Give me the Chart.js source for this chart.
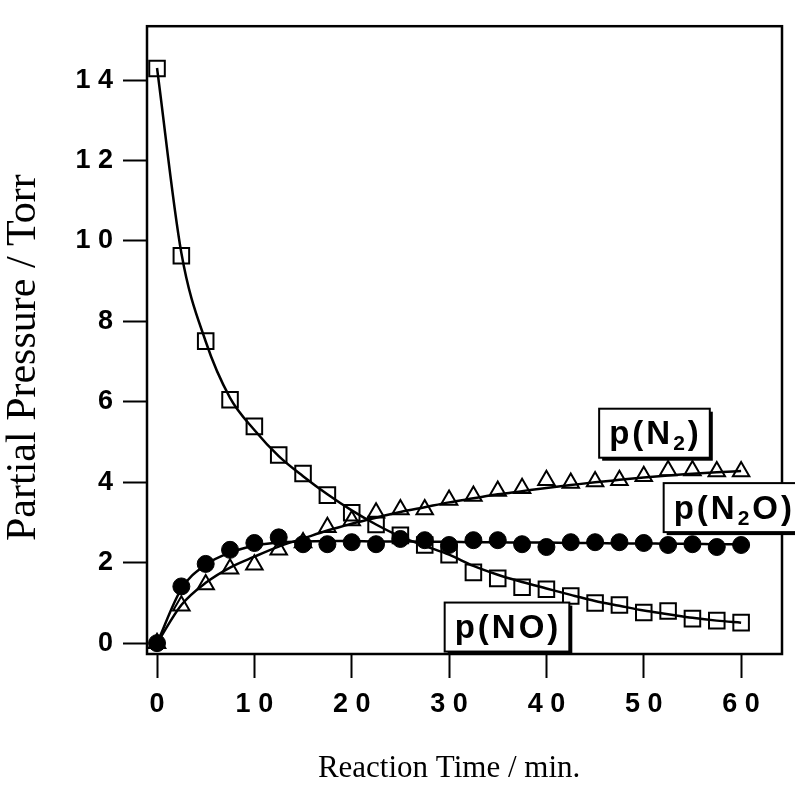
<!DOCTYPE html>
<html>
<head>
<meta charset="utf-8">
<script src="https://cdn.jsdelivr.net/npm/chart.js@4"></script>
<style>
  html, body { margin: 0; padding: 0; background: #fff; }
  #wrap { width: 795px; height: 787px; }
</style>
</head>
<body>
<div id="wrap"><canvas id="kinetics"></canvas></div>
<script>
// reaction time (min)
const times = [0, 2.5, 5, 7.5, 10, 12.5, 15, 17.5, 20, 22.5, 25, 27.5, 30,
  32.5, 35, 37.5, 40, 42.5, 45, 47.5, 50, 52.5, 55, 57.5, 60];

// measured partial pressures (Torr)
const pNO  = [14.29, 9.63, 7.51, 6.05, 5.39, 4.68, 4.22, 3.68, 3.24, 2.95, 2.68, 2.44, 2.2,
  1.76, 1.61, 1.39, 1.34, 1.17, 1.0, 0.95, 0.76, 0.8, 0.61, 0.56, 0.51];
const pN2  = [0, 0.93, 1.46, 1.85, 1.95, 2.32, 2.5, 2.88, 3.05, 3.24, 3.32, 3.32, 3.56,
  3.66, 3.78, 3.85, 4.05, 3.98, 4.02, 4.05, 4.15, 4.29, 4.29, 4.27, 4.27];
const pN2O = [0, 1.41, 1.97, 2.32, 2.49, 2.63, 2.46, 2.46, 2.51, 2.46, 2.59, 2.56, 2.44,
  2.56, 2.56, 2.46, 2.39, 2.51, 2.51, 2.51, 2.49, 2.44, 2.46, 2.39, 2.44];

// fitted curves at the same times
const fitNO  = [14.3, 9.7, 7.5, 6.1, 5.3, 4.65, 4.15, 3.7, 3.3, 2.95, 2.65, 2.42, 2.2,
  1.92, 1.7, 1.52, 1.36, 1.2, 1.05, 0.93, 0.81, 0.72, 0.63, 0.56, 0.51];
const fitN2  = [0, 0.95, 1.5, 1.88, 2.15, 2.4, 2.6, 2.8, 2.97, 3.12, 3.26, 3.38, 3.5,
  3.6, 3.7, 3.78, 3.86, 3.93, 4.0, 4.06, 4.12, 4.17, 4.21, 4.25, 4.28];
const fitN2O = [0, 1.35, 1.95, 2.25, 2.42, 2.5, 2.53, 2.54, 2.54, 2.53, 2.53, 2.52, 2.52,
  2.51, 2.51, 2.5, 2.5, 2.49, 2.49, 2.48, 2.48, 2.47, 2.47, 2.46, 2.46];

const xTicks = [0, 10, 20, 30, 40, 50, 60];
const yTicks = [0, 2, 4, 6, 8, 10, 12, 14];

const xTitle = 'Reaction Time / min.';
const yTitle = 'Partial Pressure / Torr';

// boxed series labels: text pieces [text, isSubscript], anchored in data units
const seriesLabels = [
  { parts: [['p(N', false], ['2', true], [')', false]], x: 51.1, y: 5.22 },
  { parts: [['p(N', false], ['2', true], ['O)', false]], x: 59.2, y: 3.37 },
  { parts: [['p(NO)', false]], x: 35.95, y: 0.4 }
];

const pts = arr => arr.map((v, i) => ({ x: times[i], y: v }));
const spaced = v => String(v).split('').join(' ');

const framePlugin = {
  id: 'frameAndLabels',
  afterDraw(chart) {
    const { ctx, chartArea: a, scales } = chart;
    ctx.save();
    ctx.strokeStyle = '#000';
    ctx.lineWidth = 2.5;
    ctx.strokeRect(a.left, a.top, a.right - a.left, a.bottom - a.top);

    // axis titles (serif, the y one is set larger in the figure)
    ctx.fillStyle = '#000';
    ctx.textAlign = 'center';
    ctx.textBaseline = 'middle';
    ctx.font = '31px "Liberation Serif"';
    ctx.fillText(xTitle, scales.x.getPixelForValue(30), 769);
    ctx.save();
    ctx.translate(24, scales.y.getPixelForValue(7.1));
    ctx.rotate(-Math.PI / 2);
    ctx.font = '42px "Liberation Serif"';
    ctx.fillText(yTitle, 0, 0);
    ctx.restore();

    ctx.textAlign = 'left';
    ctx.letterSpacing = '3px';
    ctx.textBaseline = 'alphabetic';
    seriesLabels.forEach(lab => {
      let w = 0;
      lab.parts.forEach(([t, sub]) => {
        ctx.font = sub ? 'bold 21px "Liberation Sans"' : 'bold 33px "Liberation Sans"';
        w += ctx.measureText(t).width;
      });
      const cx = scales.x.getPixelForValue(lab.x);
      const cy = scales.y.getPixelForValue(lab.y);
      const bw = w + 18, bh = 49;
      const bx = cx - bw / 2, by = cy - bh / 2;
      ctx.fillStyle = '#000';
      ctx.fillRect(bx + 3, by + 3, bw, bh);
      ctx.fillStyle = '#fff';
      ctx.fillRect(bx, by, bw, bh);
      ctx.lineWidth = 2;
      ctx.strokeRect(bx, by, bw, bh);
      ctx.fillStyle = '#000';
      let tx = bx + 10;
      const base = cy + 11;
      lab.parts.forEach(([t, sub]) => {
        ctx.font = sub ? 'bold 21px "Liberation Sans"' : 'bold 33px "Liberation Sans"';
        ctx.fillText(t, tx, sub ? base + 6 : base);
        tx += ctx.measureText(t).width;
      });
    });
    ctx.letterSpacing = '0px';
    ctx.restore();
  }
};

const tickFont = { family: 'Liberation Sans', size: 27, weight: 'bold' };

new Chart(document.getElementById('kinetics'), {
  type: 'line',
  data: {
    datasets: [
      { data: pts(fitNO), borderColor: '#000', borderWidth: 2.5, pointRadius: 0, cubicInterpolationMode: 'monotone' },
      { data: pts(fitN2), borderColor: '#000', borderWidth: 2.5, pointRadius: 0, cubicInterpolationMode: 'monotone' },
      { data: pts(fitN2O), borderColor: '#000', borderWidth: 2.5, pointRadius: 0, cubicInterpolationMode: 'monotone' },
      { data: pts(pNO), showLine: false, pointStyle: 'rect', pointRadius: 11,
        pointBorderColor: '#000', pointBackgroundColor: 'rgba(0,0,0,0)', pointBorderWidth: 2 },
      { data: pts(pN2), showLine: false, pointStyle: 'triangle', pointRadius: 9.5,
        pointBorderColor: '#000', pointBackgroundColor: 'rgba(0,0,0,0)', pointBorderWidth: 2 },
      { data: pts(pN2O), showLine: false, pointStyle: 'circle', pointRadius: 8.5,
        pointBorderColor: '#000', pointBackgroundColor: '#000', pointBorderWidth: 1 }
    ]
  },
  options: {
    responsive: true,
    maintainAspectRatio: false,
    animation: false,
    layout: { padding: { top: 13, right: 13, left: 0, bottom: 0 } },
    plugins: { legend: { display: false }, tooltip: { enabled: false } },
    scales: {
      x: {
        type: 'linear',
        min: -1.03,
        max: 64.2,
        afterBuildTicks: s => { s.ticks = xTicks.map(v => ({ value: v })); },
        afterFit: s => { s.height = 133; },
        grid: { drawOnChartArea: false, tickLength: 24, tickWidth: 2, tickColor: '#000' },
        border: { display: false },
        ticks: { color: '#000', font: tickFont, padding: 10, maxRotation: 0, callback: spaced }
      },
      y: {
        min: -0.27,
        max: 15.34,
        afterBuildTicks: s => { s.ticks = yTicks.map(v => ({ value: v })); },
        afterFit: s => { s.width = 147; },
        grid: { drawOnChartArea: false, tickLength: 24, tickWidth: 2, tickColor: '#000' },
        border: { display: false },
        ticks: { color: '#000', font: tickFont, padding: 10, callback: spaced }
      }
    }
  },
  plugins: [framePlugin]
});
</script>
</body>
</html>
